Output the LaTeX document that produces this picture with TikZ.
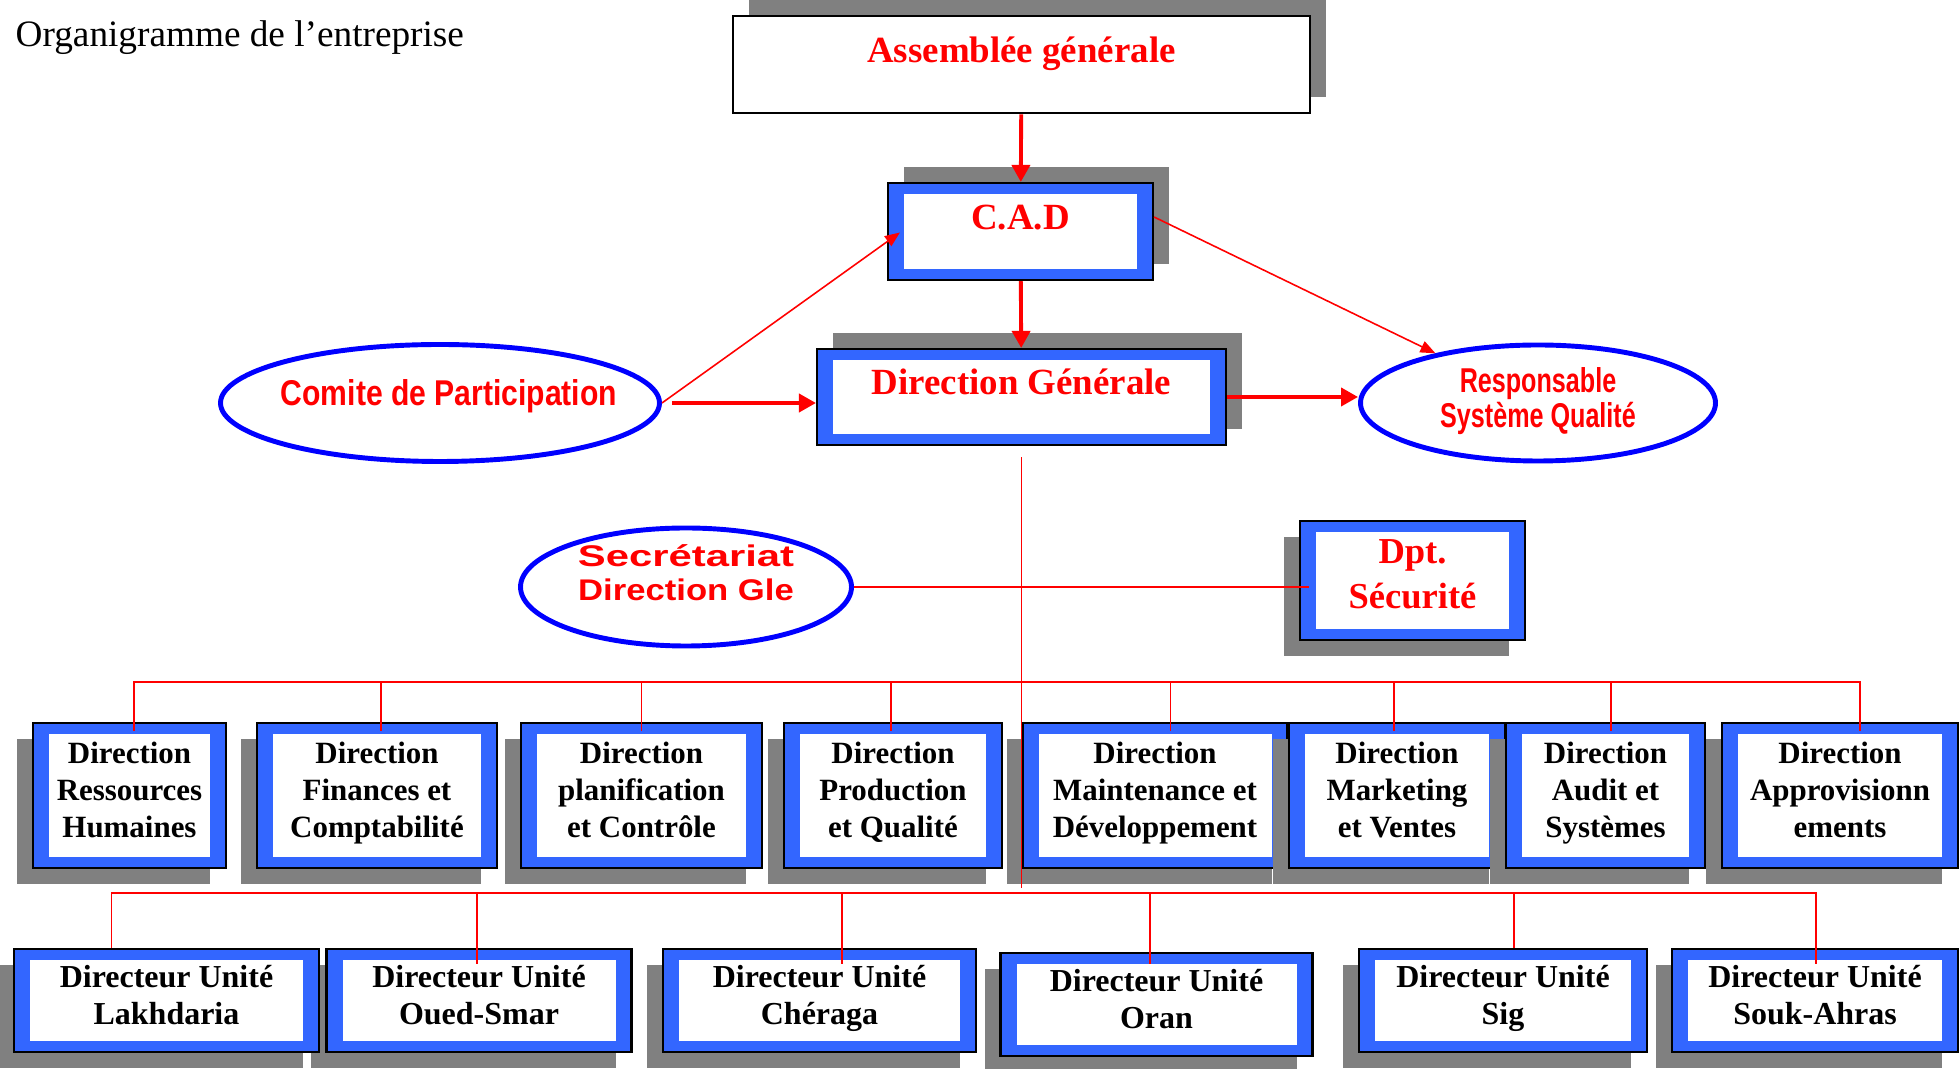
\documentclass[tikz,border=0pt]{standalone}
\usepackage{fontspec}
\setmainfont{Liberation Serif}
\newfontfamily\narrowsans[FakeStretch=0.84]{Liberation Sans}
\newfontfamily\condsans[FakeStretch=0.73]{Liberation Sans}
\newfontfamily\widesans[FakeStretch=1.16]{Liberation Sans}
\newfontfamily\widersans[FakeStretch=1.4]{Liberation Sans}
\usetikzlibrary{positioning,arrows.meta,shapes.geometric,shadows}
\definecolor{FrameBlue}{RGB}{51,102,255}
\definecolor{RingBlue}{RGB}{0,0,255}
\definecolor{ShadowGray}{RGB}{128,128,128}
\definecolor{OrgRed}{RGB}{255,0,0}

\begin{document}
\begin{tikzpicture}[every node/.style={align=center, inner sep=0pt}]
\tikzset{
  framed/.style={draw=black, line width=0.6pt, fill=FrameBlue,
    execute at end node=\strut,
    path picture={\fill[white]
      ([shift={(0.16,0.11)}]path picture bounding box.south west) rectangle
      ([shift={(-0.16,-0.11)}]path picture bounding box.north east);}},
  shadowup/.style={drop shadow={shadow xshift=0.16cm, shadow yshift=0.16cm,
    fill=ShadowGray, opacity=1}},
  shadowdown/.style={drop shadow={shadow xshift=-0.16cm, shadow yshift=-0.16cm,
    fill=ShadowGray, opacity=1}},
  ring/.style={ellipse, draw=RingBlue, line width=1.4pt, fill=white},
  headtext/.style={text=OrgRed, font=\fontsize{10.5}{12.6}\selectfont\bfseries,
    text height=0.25cm, text depth=0.29cm},
  dirbox/.style={framed, shadowdown, minimum height=1.45cm,
    font=\fontsize{8.8}{10.5}\selectfont\bfseries},
  unitbox/.style={framed, shadowdown, minimum height=1.03cm,
    font=\fontsize{9.1}{10.6}\selectfont\bfseries},
  orgline/.style={draw=OrgRed, line width=0.5pt},
  bigarrow/.style={-{Triangle[length=0.17cm,width=0.18cm]}, draw=OrgRed, line width=1.1pt},
  thinarrow/.style={-{Triangle[length=0.15cm,width=0.12cm]}, draw=OrgRed, line width=0.45pt}
}
  \useasboundingbox (0,0) rectangle (19.6,-10.69);

  \node (title) [anchor=base west, font=\fontsize{10.6}{12.7}\selectfont]
    at (0.15,-0.47) {Organigramme de l’entreprise};

  % board and general management
  \node (ag) [draw=black, line width=0.8pt, fill=white, shadowup, headtext,
    minimum width=5.77cm, minimum height=0.97cm] at (10.215,-0.645) {Assemblée générale};
  \node (cad) [framed, shadowup, headtext, minimum width=2.65cm, minimum height=0.97cm]
    at (10.205,-2.315) {C.A.D};
  \node (dg) [framed, shadowup, headtext, minimum width=4.09cm, minimum height=0.96cm]
    at (10.215,-3.97) {Direction Générale};

  % side bodies
  \node (comite) [ring, minimum width=4.39cm, minimum height=1.17cm] at (4.40,-4.03) {};
  \node (comitetxt) [text=OrgRed, font=\narrowsans\fontsize{10.2}{12}\selectfont\bfseries]
    at ([shift={(0.09,0.07)}]comite.center) {Comite de Participation};
  \node (rsq) [ring, minimum width=3.55cm, minimum height=1.16cm] at (15.38,-4.03) {};
  \node (rsqtxt) [text=OrgRed, font=\condsans\fontsize{9.8}{10}\selectfont\bfseries]
    at ([yshift=0.02cm]rsq.center) {Responsable\\Système Qualité};
  \node (sec) [ring, minimum width=3.31cm, minimum height=1.18cm] at (6.86,-5.87) {};
  \node (sectxt) [text=OrgRed, font=\widesans\fontsize{8.5}{9.7}\selectfont\bfseries]
    at ([yshift=0.14cm]sec.center) {{\widersans Secrétariat}\\Direction Gle};
  \node (dpt) [framed, shadowdown, text=OrgRed, font=\fontsize{10.4}{12.8}\selectfont\bfseries,
    minimum width=2.25cm, minimum height=1.19cm] at (14.125,-5.805) {Dpt.\\Sécurité};

  % directions
  \node (rh) [dirbox, minimum width=1.93cm] at (1.295,-7.955) {Direction\\Ressources\\Humaines};
  \node (fin) [dirbox, minimum width=2.40cm] at (3.77,-7.955) {Direction\\Finances et\\Comptabilité};
  \node (plan) [dirbox, minimum width=2.41cm] at (6.415,-7.955) {Direction\\planification\\et Contrôle};
  \node (prod) [dirbox, minimum width=2.18cm] at (8.93,-7.955) {Direction\\Production\\et Qualité};
  \node (maint) [dirbox, minimum width=2.65cm] at (11.55,-7.955) {Direction\\Maintenance et\\Développement};
  \node (mkt) [dirbox, minimum width=2.16cm] at (13.97,-7.955) {Direction\\Marketing\\et Ventes};
  \node (audit) [dirbox, minimum width=1.99cm] at (16.055,-7.955) {Direction\\Audit et\\Systèmes};
  \node (appro) [dirbox, minimum width=2.36cm] at (18.40,-7.955) {Direction\\Approvisionn\\ements};

  % unit directors, right to left so each box lies over its neighbour's shadow
  \node (souk) [unitbox, minimum width=2.86cm] at (18.15,-10.005) {Directeur Unité\\Souk-Ahras};
  \node (sig) [unitbox, minimum width=2.88cm] at (15.03,-10.005) {Directeur Unité\\Sig};
  \node (oran) [unitbox, minimum width=3.12cm] at (11.565,-10.045) {Directeur Unité\\Oran};
  \node (cher) [unitbox, minimum width=3.13cm] at (8.195,-10.005) {Directeur Unité\\Chéraga};
  \node (oued) [unitbox, minimum width=3.05cm] at (4.79,-10.005) {Directeur Unité\\Oued-Smar};
  \node (lak) [unitbox, minimum width=3.05cm] at (1.665,-10.005) {Directeur Unité\\Lakhdaria};

  % links
  \coordinate (bus2w) at (1.34,-6.82);
  \coordinate (bus2e) at (18.61,-6.82);
  \coordinate (bus3w) at (1.116,-8.93);
  \coordinate (bus3e) at (18.16,-8.93);
  \coordinate[below=4.42cm of dg.south] (spineend);
  \coordinate (dptin) at ([xshift=0.1cm]dpt.west);

  \draw[bigarrow] (ag) -- (cad);
  \draw[bigarrow] (cad) -- (dg);
  \draw[bigarrow] ([xshift=0.1cm]comite.east) -- (comite.east -| dg.west);
  \draw[bigarrow] (dg.east) -- (dg.east -| rsq.west);
  \draw[thinarrow] (comite.east) -- ([shift={(0.13,-0.01)}]cad.west);
  \draw[thinarrow] ([yshift=0.145cm]cad.east) -- (rsq);

  \draw[orgline] (sec.east) -- (sec.east -| dptin);
  \draw[orgline] ([yshift=-0.11cm]dg.south) -- (spineend);
  \draw[orgline] (bus2w) -- (bus2e);
  \draw[orgline] (bus3w) -- (bus3e);

  \draw[orgline] ([shift={(0.045,-0.09)}]rh.north) -- ++(0,0.50);
  \draw[orgline] ([shift={(0.04,-0.09)}]fin.north) -- ++(0,0.50);
  \draw[orgline] ([shift={(0,-0.09)}]plan.north) -- ++(0,0.50);
  \draw[orgline] ([shift={(-0.02,-0.09)}]prod.north) -- ++(0,0.50);
  \draw[orgline] ([shift={(0.156,-0.09)}]maint.north) -- ++(0,0.50);
  \draw[orgline] ([shift={(-0.03,-0.09)}]mkt.north) -- ++(0,0.50);
  \draw[orgline] ([shift={(0.055,-0.09)}]audit.north) -- ++(0,0.50);
  \draw[orgline] ([shift={(0.20,-0.09)}]appro.north) -- ++(0,0.50);

  \draw[orgline] ([xshift=-0.55cm]lak.north) -- ++(0,0.56);
  \draw[orgline] ([shift={(-0.02,-0.16)}]oued.north) -- ++(0,0.72);
  \draw[orgline] ([shift={(0.225,-0.16)}]cher.north) -- ++(0,0.72);
  \draw[orgline] ([shift={(-0.065,-0.12)}]oran.north) -- ++(0,0.72);
  \draw[orgline] ([xshift=0.11cm]sig.north) -- ++(0,0.56);
  \draw[orgline] ([shift={(0.01,-0.16)}]souk.north) -- ++(0,0.72);
\end{tikzpicture}
\end{document}
